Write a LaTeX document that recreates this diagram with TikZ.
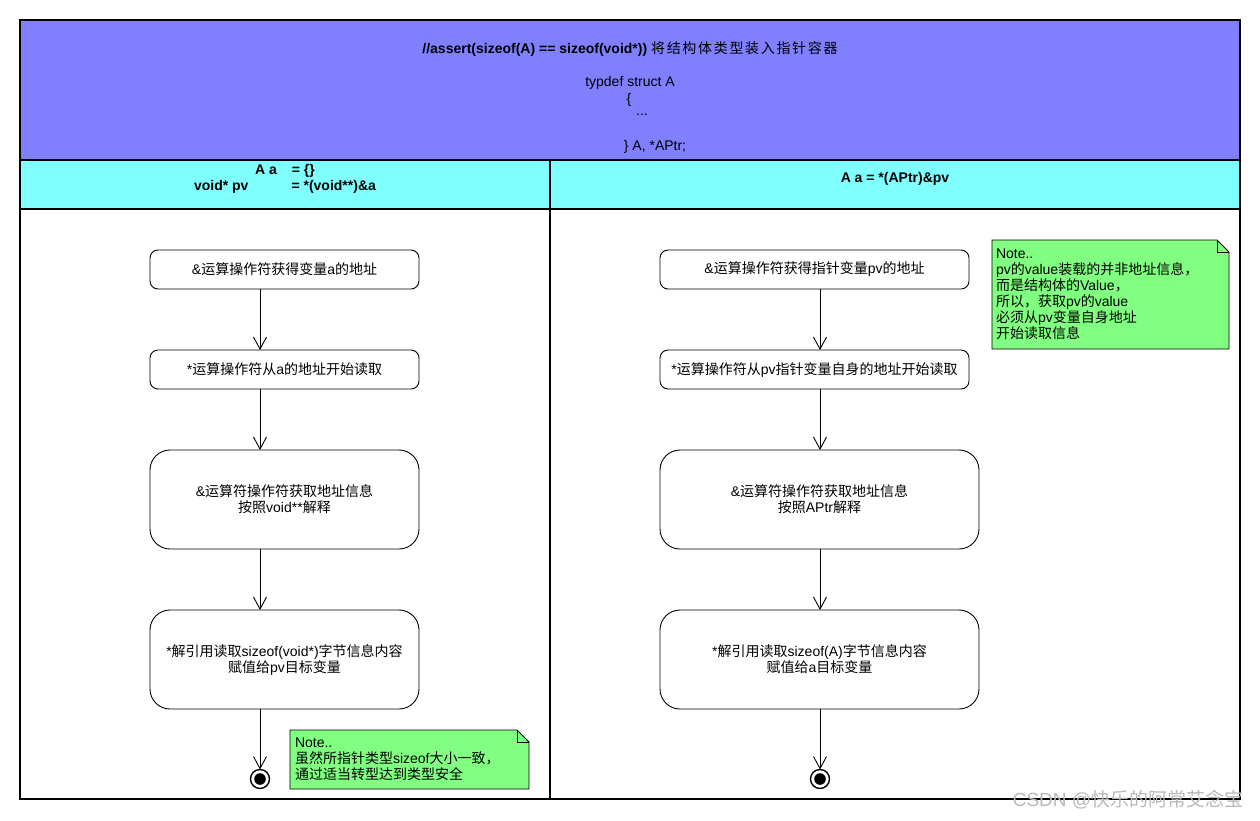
\documentclass[tikz,border=0pt]{standalone}
\usepackage{fontspec}
\setmainfont{Liberation Sans}
\newfontfamily\cjk{Noto Sans CJK SC}
\newfontfamily\cjkwide[LetterSpace=12]{Noto Sans CJK SC}
\newcommand\zh[1]{{\cjk #1}}
\usetikzlibrary{arrows.meta, positioning, backgrounds}
\definecolor{hdrblue}{HTML}{8080FF}
\definecolor{lanecyan}{HTML}{80FFFF}
\definecolor{notegreen}{HTML}{80FF80}
\newcommand\dogear[1]{%
  \filldraw[notepaper] (#1.north west) -- ([xshift=-12pt]#1.north east) -- ([yshift=-12pt]#1.north east)
    -- (#1.south east) -- (#1.south west) -- cycle;
  \draw[notepaper, fill=none] ([xshift=-12pt]#1.north east) |- ([yshift=-12pt]#1.north east);}

\begin{document}
\begin{tikzpicture}[
        x=1pt, y=-1pt,
        every node/.style={font=\fontsize{14}{16}\selectfont, inner sep=0pt, outer sep=0pt},
        actbox/.style={
            rectangle, rounded corners=8pt, draw, line width=0.9pt,
            align=center, minimum height=39pt
        },
        bigact/.style={actbox, rounded corners=20pt, minimum height=99pt},
        final/.style={
            circle, draw, line width=1.4pt, minimum size=19pt,
            path picture={\fill (path picture bounding box.center) circle (5.8pt);}
        },
        notebox/.style={anchor=north west, align=left, text width=229pt, inner xsep=5pt},
        notepaper/.style={draw, fill=notegreen, line width=0.9pt},
        flow/.style={-{Straight Barb[length=12pt, width=13pt]}, line width=0.9pt},
        frame/.style={line width=1.3pt},
        sep/.style={line width=2pt}
    ]
        \useasboundingbox (0,0) rectangle (1260,820);

        % Swimlanes
        \fill[hdrblue] (20,20) rectangle (1240,160);
        \fill[lanecyan] (20,160) rectangle (1240,209);
        \draw[frame] (20,20) rectangle (1240,799);
        \draw[sep] (20,160) -- (1240,160);
        \draw[sep] (20,209) -- (1240,209);
        \draw[sep] (550,160) -- (550,799);

        % Header
        \node (title) at (630,49.5) {\textbf{//assert(sizeof(A) == sizeof(void*))} {\cjkwide 将结构体类型装入指针容器}};
        \node (tdef) at (630,82.5) {typdef struct A};
        \node (lbr) at (629,99.5) {\{};
        \node (dots) at (642,114.5) {...};
        \node (rbr) at (655,146.5) {\} A, *APtr;};
        \node (laneL) at (285,179) [align=center, font=\bfseries\fontsize{14}{16}\selectfont]
            {A a\hspace{15pt}= \{\}\\void* pv\hspace{43pt}= *(void**)\&a};
        \node (laneR) at (895,178.5) [font=\bfseries\fontsize{14}{16}\selectfont] {A a = *(APtr)\&pv};

        % Cascading nodes, left lane
        \node (n1L) at (284.5,269.5) [actbox, minimum width=269pt] {\&\zh{运算操作符获得变量}a\zh{的地址}};
        \node (n2L) [actbox, minimum width=269pt, below=61pt of n1L] {*\zh{运算操作符从}a\zh{的地址开始读取}};
        \node (n3L) [bigact, minimum width=269pt, below=61pt of n2L] {\&\zh{运算符操作符获取地址信息}\\\zh{按照}void**\zh{解释}};
        \node (n4L) [bigact, minimum width=269pt, below=61pt of n3L] {*\zh{解引用读取}sizeof(void*)\zh{字节信息内容}\\\zh{赋值给}pv\zh{目标变量}};
        \node (endL) at (260,779) [final] {};

        % Cascading nodes, right lane
        \node (n1R) at (814.5,269.5) [actbox, minimum width=309pt] {\&\zh{运算操作符获得指针变量}pv\zh{的地址}};
        \node (n2R) [actbox, minimum width=309pt, below=61pt of n1R] {*\zh{运算操作符从}pv\zh{指针变量自身的地址开始读取}};
        \node (n3R) [bigact, minimum width=319pt, below=61pt of n2R, xshift=5pt] {\&\zh{运算符操作符获取地址信息}\\\zh{按照}APtr\zh{解释}};
        \node (n4R) [bigact, minimum width=319pt, below=61pt of n3R] {*\zh{解引用读取}sizeof(A)\zh{字节信息内容}\\\zh{赋值给}a\zh{目标变量}};
        \node (endR) at (820,779) [final] {};

        % Notes
        \node (noteL) at (290,730) [notebox, minimum height=59pt]
            {Note..\\\zh{虽然所指针类型}sizeof\zh{大小一致，}\\\zh{通过适当转型达到类型安全}};
        \node (noteR) at (992,240) [notebox, inner xsep=4pt, minimum height=109pt]
            {Note..\\pv\zh{的}value\zh{装载的并非地址信息，}\\\zh{而是结构体的}Value\zh{，}\\\zh{所以，获取}pv\zh{的}value\\\zh{必须从}pv\zh{变量自身地址}\\\zh{开始读取信息}};

        % Connectors
        \draw[flow] (n1L.south -| endL) -- (n2L.north -| endL);
        \draw[flow] (n2L.south -| endL) -- (n3L.north -| endL);
        \draw[flow] (n3L.south -| endL) -- (n4L.north -| endL);
        \draw[flow] (n4L.south -| endL) -- (endL);
        \draw[flow] (n1R.south -| endR) -- (n2R.north -| endR);
        \draw[flow] (n2R.south -| endR) -- (n3R.north -| endR);
        \draw[flow] (n3R.south -| endR) -- (n4R.north -| endR);
        \draw[flow] (n4R.south -| endR) -- (endR);

        % Watermark
        \node (mark) at (1128,800) [text=gray!55, font=\fontsize{19}{22}\selectfont] {CSDN @\zh{快乐的阿常艾念宝}};

        \begin{scope}[on background layer]
            \fill[white] (0,0) rectangle (1260,820);
            \dogear{noteL}
            \dogear{noteR}
        \end{scope}
    \end{tikzpicture}
\end{document}
